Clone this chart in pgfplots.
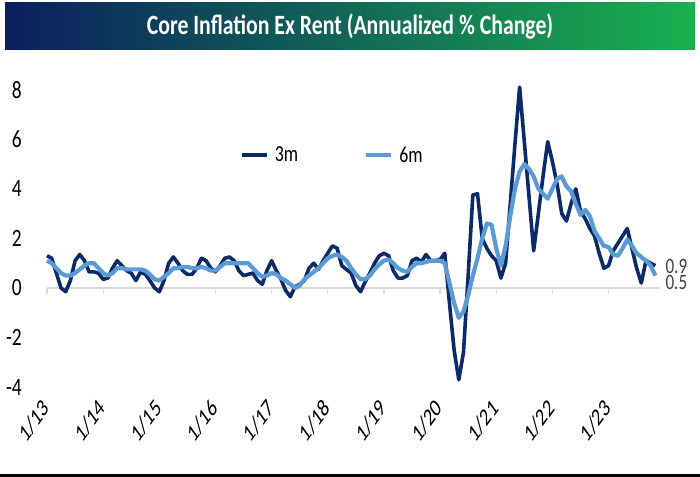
\documentclass[border=0pt]{standalone}
\usepackage{fontspec}
\setmainfont[FakeStretch=0.78]{Carlito}
\newfontfamily\plainfont{Carlito}
\usepackage{graphicx}
\usepackage{pgfplots}
\usepackage{pgfplotstable}
\pgfplotsset{compat=1.18}

\definecolor{navy}{HTML}{0C2A66}
\definecolor{sky}{HTML}{5B9BD5}
\definecolor{zeroline}{HTML}{D9D9D9}
\definecolor{barleft}{HTML}{0A1F5E}
\definecolor{barright}{HTML}{1AB04F}
\definecolor{endlabel}{HTML}{404040}

% month index t (0 = Jan 2013), 3-month and 6-month annualized % change
\pgfplotstableread{
t m3 m6
0 1.30 1.10
1 1.20 1.00
2 0.60 0.80
3 0.00 0.60
4 -0.15 0.50
5 0.30 0.50
6 1.10 0.60
7 1.35 0.75
8 1.10 0.90
9 0.65 1.00
10 0.65 1.00
11 0.60 0.80
12 0.35 0.60
13 0.40 0.50
14 0.80 0.60
15 1.10 0.80
16 0.90 0.80
17 0.70 0.75
18 0.60 0.75
19 0.30 0.75
20 0.65 0.75
21 0.55 0.70
22 0.30 0.55
23 0.00 0.35
24 -0.15 0.30
25 0.30 0.45
26 1.00 0.60
27 1.25 0.80
28 1.00 0.80
29 0.70 0.85
30 0.55 0.85
31 0.55 0.80
32 0.80 0.80
33 1.20 0.85
34 1.10 0.80
35 0.80 0.70
36 0.65 0.70
37 0.90 0.85
38 1.20 1.00
39 1.25 1.00
40 1.10 1.00
41 0.70 1.00
42 0.50 1.00
43 0.55 1.00
44 0.60 0.80
45 0.30 0.60
46 0.15 0.45
47 0.70 0.50
48 1.10 0.60
49 0.70 0.55
50 0.35 0.40
51 -0.10 0.30
52 -0.35 0.15
53 0.05 0.00
54 0.15 0.10
55 0.30 0.35
56 0.80 0.50
57 1.00 0.65
58 0.75 0.80
59 1.10 1.00
60 1.40 1.20
61 1.70 1.30
62 1.60 1.35
63 0.90 1.25
64 0.75 1.10
65 0.60 0.80
66 0.10 0.55
67 -0.15 0.35
68 0.25 0.35
69 0.60 0.50
70 1.00 0.75
71 1.30 0.95
72 1.40 1.10
73 1.30 1.15
74 0.70 1.00
75 0.40 0.80
76 0.40 0.70
77 0.50 0.65
78 1.10 0.85
79 1.20 1.00
80 1.05 1.00
81 1.35 1.05
82 1.10 1.10
83 1.10 1.10
84 1.15 1.10
85 1.40 1.00
86 -0.60 0.20
87 -2.50 -0.60
88 -3.70 -1.20
89 -2.60 -0.95
90 0.50 -0.30
91 3.75 0.50
92 3.80 1.20
93 2.00 2.00
94 1.60 2.60
95 1.30 2.55
96 1.10 1.60
97 0.40 0.90
98 1.00 1.70
99 3.40 2.90
100 5.80 4.00
101 8.10 4.70
102 5.90 5.00
103 3.70 4.80
104 1.50 4.50
105 3.00 4.00
106 4.50 3.80
107 5.90 3.60
108 5.10 4.00
109 4.20 4.40
110 3.00 4.50
111 2.70 4.10
112 3.40 3.90
113 4.00 3.40
114 3.10 2.95
115 2.80 3.15
116 2.40 2.90
117 2.10 2.30
118 1.40 2.00
119 0.80 1.70
120 0.90 1.65
121 1.50 1.35
122 1.80 1.30
123 2.10 1.60
124 2.40 1.95
125 1.60 1.70
126 0.80 1.40
127 0.20 1.25
128 1.10 1.10
129 1.00 0.90
130 0.90 0.50
}\coreexrent

% rotated, condensed year label
\newcommand{\yr}[1]{\scalebox{0.72}[1]{\rotatebox{45}{\plainfont\fontsize{25}{25}\selectfont 1/#1}}}

\begin{document}
\begin{tikzpicture}[x=1bp,y=1bp]
\useasboundingbox (0,0) rectangle (700,477);

% title banner
\shade[left color=barleft, right color=barright] (5,427) rectangle (695,474);
\node[white, font=\fontsize{28}{28}\selectfont\bfseries] at (350,450) {Core Inflation Ex Rent (Annualized \% Change)};

% bottom rule
\draw[black, line width=3bp] (0,1.5) -- (700,1.5);

\begin{axis}[
  at={(47bp,89.8bp)}, anchor=south west,
  scale only axis, width=613bp, height=310bp,
  xmin=0, xmax=131, ymin=-4, ymax=8.5,
  axis line style={draw=none},
  clip=false,
  tick style={draw=none},
  major tick length=0pt,
  xtick={0,12,...,120},
  xticklabels={\yr{13},\yr{14},\yr{15},\yr{16},\yr{17},\yr{18},\yr{19},\yr{20},\yr{21},\yr{22},\yr{23}},
  xticklabel style={anchor=north east, inner sep=0pt, yshift=-10bp, xshift=4bp},
  ytick={-4,-2,...,8},
  /pgf/number format/assume math mode=true,
  yticklabel style={font=\fontsize{25}{25}\selectfont, anchor=east, inner sep=0pt, xshift=-25bp},
  legend style={draw=none, fill=none, at={(axis cs:40.6,5.36)}, anchor=west,
    legend columns=2, font=\fontsize{23}{23}\selectfont,
    nodes={inner sep=0pt}, column sep=6bp,
    /tikz/every even column/.append style={column sep=66bp}},
  legend image code/.code={\draw[#1] (0bp,0bp) -- (25bp,0bp);},
]
% zero line with year ticks
\draw[zeroline, line width=1.5bp] (axis cs:0,0) -- (axis cs:131,0);
\pgfplotsinvokeforeach{0,12,...,120}{
  \draw[zeroline, line width=1.2bp] (axis cs:#1,0) -- (axis cs:#1,-0.25);
}
\addplot[navy, line width=3.6bp, line join=round] table[x=t, y=m3] {\coreexrent};
\addlegendentry{3m}
\addplot[sky, line width=4.2bp, line join=round] table[x=t, y=m6] {\coreexrent};
\addlegendentry{6m}

\node[anchor=west, text=endlabel, font=\fontsize{22}{22}\selectfont, inner sep=0pt] at (axis cs:130,0.9) [xshift=10bp, yshift=-1bp] {0.9};
\node[anchor=west, text=endlabel, font=\fontsize{22}{22}\selectfont, inner sep=0pt] at (axis cs:130,0.5) [xshift=10bp, yshift=-7bp] {0.5};
\end{axis}
\end{tikzpicture}
\end{document}
